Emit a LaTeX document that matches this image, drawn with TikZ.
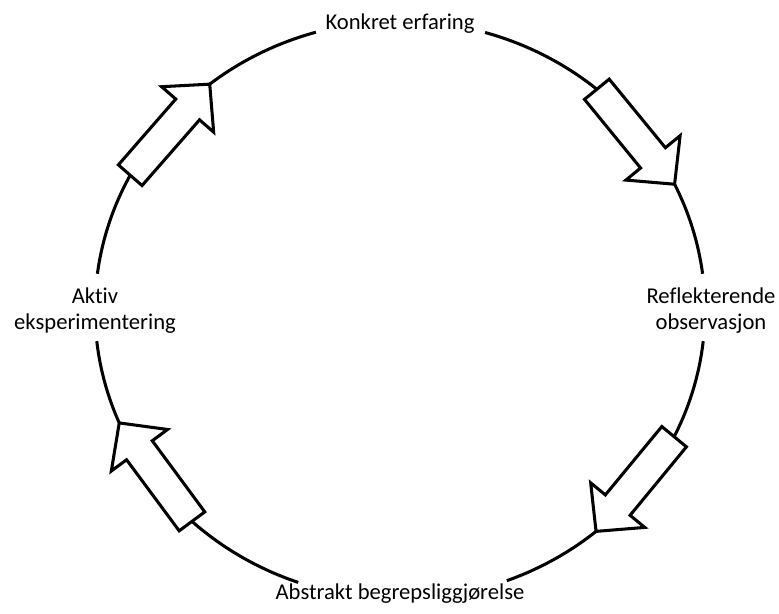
\documentclass[tikz,border=0pt]{standalone}
\usepackage{fontspec}
\setmainfont{Carlito}[Ligatures={NoCommon}]
\usetikzlibrary{calc}

% hollow block arrow from tail (#1) to tip (#2)
\newcommand{\cyclearrow}[2]{%
  \draw[blockarrow] ($(#1)!0.13!90:(#2)$) -- ($(#1)!0.7224!(#2)!0.4705!90:(#2)$)
    -- ($(#1)!0.7224!(#2)!1.029!90:(#2)$) -- (#2)
    -- ($(#1)!0.7224!(#2)!1.029!-90:(#2)$) -- ($(#1)!0.7224!(#2)!0.4705!-90:(#2)$)
    -- ($(#1)!0.13!-90:(#2)$) -- cycle;}

\begin{document}
\begin{tikzpicture}[x=0.03cm, y=0.03cm,
    cycleline/.style={line width=2.6pt},
    blockarrow/.style={line width=2.6pt, fill=white, line join=miter},
    phase/.style={font=\fontsize{19.3}{22.1}\selectfont, inner sep=0pt}]
  \useasboundingbox (-400,-304) rectangle (379,310);

  \node[phase, anchor=base] (konkret) at (0,280.7) {Konkret erfaring};
  \node[phase, align=center] (reflekterende) at (311,-1) {Reflekterende\\observasjon};
  \node[phase, anchor=base] (abstrakt) at (0,-289.3) {Abstrakt begrepsliggjørelse};
  \node[phase, align=center] (aktiv) at (-305,-1) {Aktiv\\eksperimentering};

  % the cycle, broken at the labels and the arrows
  \foreach \a/\b in {106/128.6, 152.2/172.8, 186.2/203, 227/250.5,
                     290.5/310, 334/353.8, 7.2/25.8, 49.8/73.8}
    \draw[cycleline] (\a:305 and 289) arc[start angle=\a, end angle=\b, x radius=305, y radius=289];

  \coordinate (tr-tail) at (49.8:305 and 289);
  \coordinate (tr-tip) at (25.8:305 and 289);
  \coordinate (br-tail) at (-26:305 and 289);
  \coordinate (br-tip) at (-50:305 and 289);
  \coordinate (bl-tail) at (-133:305 and 289);
  \coordinate (bl-tip) at (-157:305 and 289);
  \coordinate (tl-tail) at (152.2:305 and 289);
  \coordinate (tl-tip) at (128.6:305 and 289);

  \cyclearrow{tr-tail}{tr-tip}
  \cyclearrow{br-tail}{br-tip}
  \cyclearrow{bl-tail}{bl-tip}
  \cyclearrow{tl-tail}{tl-tip}
\end{tikzpicture}
\end{document}
